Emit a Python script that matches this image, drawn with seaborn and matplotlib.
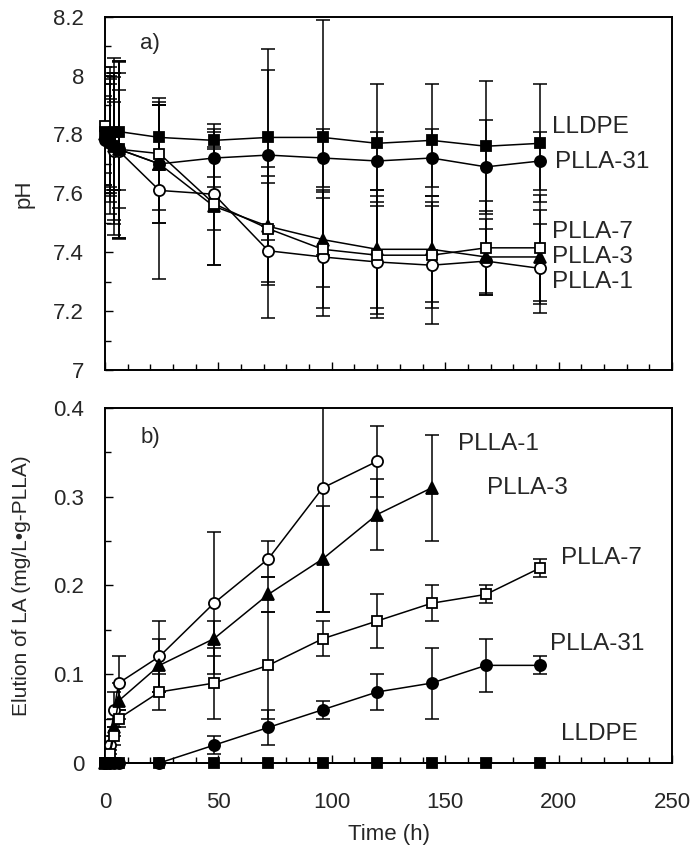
import numpy as np
import matplotlib
matplotlib.use('Agg')
import matplotlib.pyplot as plt
import seaborn as sns
from matplotlib.ticker import MultipleLocator, FuncFormatter

sns.set_theme(style='ticks')
plt.rcParams['font.family'] = ['Liberation Sans', 'DejaVu Sans']

# ---- a) pH ----
t_ph = [0, 2, 4, 6, 24, 48, 72, 96, 120, 144, 168, 192]
ph_lldpe = [7.81, 7.80, 7.81, 7.81, 7.79, 7.78, 7.79, 7.79, 7.77, 7.78, 7.76, 7.77]
ph_plla31 = [7.78, 7.77, 7.76, 7.75, 7.70, 7.72, 7.73, 7.72, 7.71, 7.72, 7.69, 7.71]
ph_plla7 = [7.83, 7.79, 7.76, 7.75, 7.735, 7.565, 7.48, 7.41, 7.39, 7.39, 7.415, 7.415]
ph_plla3 = [7.80, 7.78, 7.76, 7.75, 7.70, 7.556, 7.488, 7.443, 7.41, 7.41, 7.384, 7.384]
ph_plla1 = [7.82, 7.77, 7.745, 7.745, 7.61, 7.597, 7.405, 7.384, 7.367, 7.356, 7.37, 7.345]
ph_err_lldpe = [0.2, 0.2, 0.2, 0.2, 0.11, 0.03, 0.3, 0.4, 0.2, 0.19, 0.22, 0.2]
ph_err_plla31 = [0.15, 0.15, 0.15, 0.2, 0.2, 0.1, 0.29, 0.1, 0.1, 0.1, 0.16, 0.1]
ph_err_plla7 = [0.2, 0.2, 0.25, 0.3, 0.19, 0.09, 0.18, 0.2, 0.2, 0.18, 0.16, 0.18]
ph_err_plla3 = [0.2, 0.25, 0.3, 0.3, 0.2, 0.2, 0.2, 0.16, 0.2, 0.18, 0.13, 0.16]
ph_err_plla1 = [0.15, 0.2, 0.25, 0.3, 0.3, 0.24, 0.23, 0.2, 0.19, 0.2, 0.11, 0.15]

# ---- b) elution of LA ----
t_la = [0, 2, 4, 6, 24, 48, 72, 96, 120, 144, 168, 192]
la_lldpe = [0, 0, 0, 0, 0, 0, 0, 0, 0, 0, 0, 0]
la_plla31 = [0, 0, 0, 0, 0, 0.02, 0.04, 0.06, 0.08, 0.09, 0.11, 0.11]
la_err_plla31 = [0, 0, 0, 0, 0, 0.01, 0.02, 0.01, 0.02, 0.04, 0.03, 0.01]
la_plla7 = [0, 0.01, 0.03, 0.05, 0.08, 0.09, 0.11, 0.14, 0.16, 0.18, 0.19, 0.22]
la_err_plla7 = [0, 0.005, 0.01, 0.01, 0.02, 0.04, 0.06, 0.02, 0.03, 0.02, 0.01, 0.01]
t_la3 = [0, 2, 4, 6, 24, 48, 72, 96, 120, 144]
la_plla3 = [0, 0.01, 0.04, 0.07, 0.11, 0.14, 0.19, 0.23, 0.28, 0.31]
la_err_plla3 = [0, 0.01, 0.01, 0.02, 0.03, 0.02, 0.02, 0.06, 0.04, 0.06]
t_la1 = [0, 2, 4, 6, 24, 48, 72, 96, 120]
la_plla1 = [0, 0.02, 0.06, 0.09, 0.12, 0.18, 0.23, 0.31, 0.34]
la_err_plla1 = [0, 0.01, 0.02, 0.03, 0.04, 0.08, 0.02, 0.14, 0.04]

styles = {
    'LLDPE': dict(marker='s', markerfacecolor='black', markersize=7.5),
    'PLLA-31': dict(marker='o', markerfacecolor='black', markersize=8),
    'PLLA-7': dict(marker='s', markerfacecolor='white', markersize=7.5),
    'PLLA-3': dict(marker='^', markerfacecolor='black', markersize=8.5),
    'PLLA-1': dict(marker='o', markerfacecolor='white', markersize=8),
}

def draw(ax, t, y, err, name):
    ax.errorbar(t, y, yerr=err, fmt='none', ecolor='black', elinewidth=1.1,
                capsize=5, capthick=1.1, zorder=2)
    sns.lineplot(x=t, y=y, ax=ax, color='black', linewidth=1.1, errorbar=None,
                 markeredgecolor='black', markeredgewidth=1.3, clip_on=False,
                 zorder=3, **styles[name])

fig = plt.figure(figsize=(7, 8.52), dpi=100)
ax1 = fig.add_axes([0.15, 0.5657, 0.81, 0.4147])
ax2 = fig.add_axes([0.15, 0.1045, 0.81, 0.4166])

draw(ax1, t_ph, ph_plla1, ph_err_plla1, 'PLLA-1')
draw(ax1, t_ph, ph_plla3, ph_err_plla3, 'PLLA-3')
draw(ax1, t_ph, ph_plla7, ph_err_plla7, 'PLLA-7')
draw(ax1, t_ph, ph_plla31, ph_err_plla31, 'PLLA-31')
draw(ax1, t_ph, ph_lldpe, ph_err_lldpe, 'LLDPE')

draw(ax2, t_la1, la_plla1, la_err_plla1, 'PLLA-1')
draw(ax2, t_la3, la_plla3, la_err_plla3, 'PLLA-3')
draw(ax2, t_la, la_plla7, la_err_plla7, 'PLLA-7')
draw(ax2, t_la, la_plla31, la_err_plla31, 'PLLA-31')
draw(ax2, t_la, la_lldpe, la_lldpe, 'LLDPE')

fs_tick = 16
fs_lab = 17.5
fmt = FuncFormatter(lambda v, p: f'{v:g}')

for ax in (ax1, ax2):
    ax.set_xlim(0, 250)
    ax.xaxis.set_major_locator(MultipleLocator(50))
    ax.xaxis.set_minor_locator(MultipleLocator(10))
    ax.tick_params(which='both', direction='in', color='black', width=1.0,
                   top=False, right=False)
    ax.tick_params(which='major', length=6)
    ax.tick_params(which='minor', length=4)
    ax.tick_params(axis='y', labelsize=fs_tick, pad=15)
    ax.tick_params(axis='x', labelsize=fs_tick, pad=21)
    ax.yaxis.set_major_formatter(fmt)
    for s in ax.spines.values():
        s.set_color('black')
        s.set_linewidth(1.4)

ax1.set_ylim(7, 8.2)
ax1.yaxis.set_major_locator(MultipleLocator(0.2))
ax1.yaxis.set_minor_locator(MultipleLocator(0.1))
ax1.tick_params(axis='x', labelbottom=False)
ax1.set_ylabel('pH', fontsize=16)
ax1.yaxis.set_label_coords(-0.125, 0.5)
ax1.set_xlabel('')

ax2.set_ylim(0, 0.4)
ax2.yaxis.set_major_locator(MultipleLocator(0.1))
ax2.yaxis.set_minor_locator(MultipleLocator(0.05))
ax2.set_ylabel('Elution of LA (mg/L•g-PLLA)', fontsize=15)
ax2.yaxis.set_label_coords(-0.13, 0.5)
ax2.set_xlabel('Time (h)', fontsize=fs_tick, labelpad=8)

ax1.text(15.5, 8.11, 'a)', fontsize=fs_tick, va='center', ha='left')
ax1.text(197, 7.825, 'LLDPE', fontsize=fs_lab, va='center', ha='left')
ax1.text(198.5, 7.706, 'PLLA-31', fontsize=fs_lab, va='center', ha='left')
ax1.text(197, 7.469, 'PLLA-7', fontsize=fs_lab, va='center', ha='left')
ax1.text(197, 7.384, 'PLLA-3', fontsize=fs_lab, va='center', ha='left')
ax1.text(197, 7.30, 'PLLA-1', fontsize=fs_lab, va='center', ha='left')

ax2.text(15.5, 0.367, 'b)', fontsize=fs_tick, va='center', ha='left')
ax2.text(155.5, 0.36, 'PLLA-1', fontsize=fs_lab, va='center', ha='left')
ax2.text(168.5, 0.31, 'PLLA-3', fontsize=fs_lab, va='center', ha='left')
ax2.text(201, 0.231, 'PLLA-7', fontsize=fs_lab, va='center', ha='left')
ax2.text(196, 0.134, 'PLLA-31', fontsize=fs_lab, va='center', ha='left')
ax2.text(201, 0.033, 'LLDPE', fontsize=fs_lab, va='center', ha='left')

fig.savefig('out.png', dpi=100, facecolor='white')
